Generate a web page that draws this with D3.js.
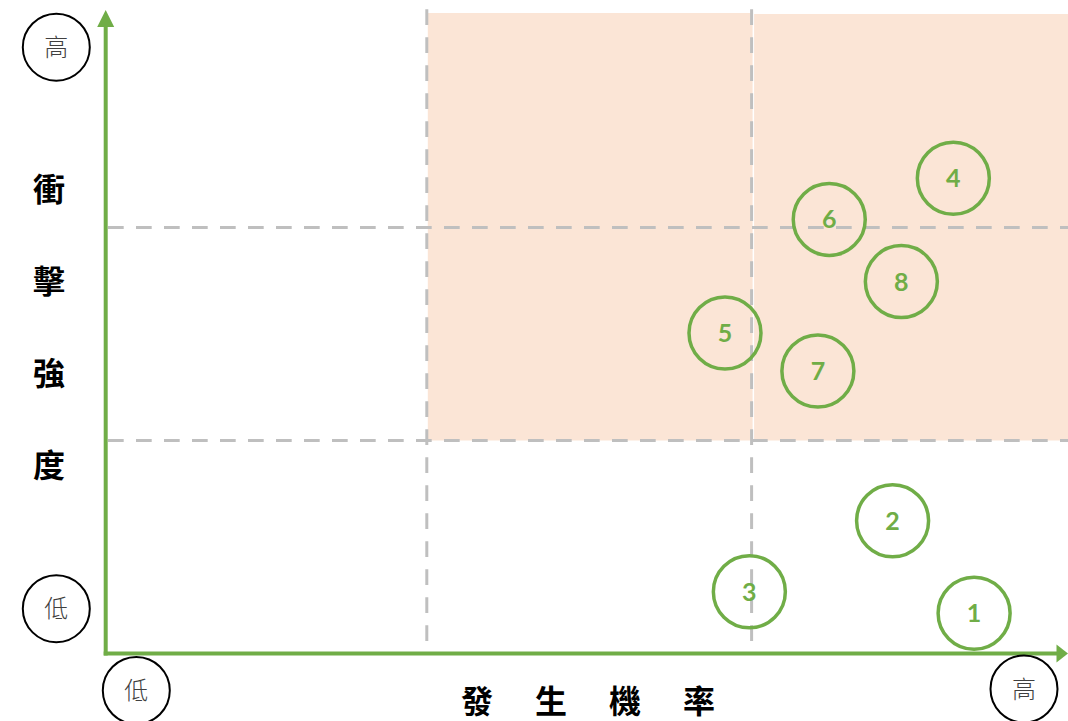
<!DOCTYPE html>
<html>
<head>
<meta charset="utf-8">
<script src="https://cdn.jsdelivr.net/npm/d3@7"></script>
<style>
  body { margin: 0; background: #fff; }
  svg { display: block; }
</style>
</head>
<body>
<div id="chart"></div>
<script>
// risk id, likelihood (0-3), impact (0-3)
const riskIds = [1, 2, 3, 4, 5, 6, 7, 8];
const likelihood = [2.682, 2.431, 1.990, 2.618, 1.915, 2.236, 2.201, 2.458];
const impact = [0.189, 0.623, 0.290, 2.231, 1.505, 2.038, 1.326, 1.746];

const levelLow = "低";
const levelHigh = "高";
const yTitle = ["衝", "擊", "強", "度"];
const xTitle = ["發", "生", "機", "率"];
const dividers = [1, 2];

const W = 1068, H = 721;
const green = "#70ad47";
const dashGrey = "#bfbfbf";
const shade = "#fbe5d6";

const svg = d3.select("#chart").append("svg")
  .attr("width", W)
  .attr("height", H);

// scales: 3 x 3 grid
const x = d3.scaleLinear().domain([0, 3]).range([103, 1077.4]);
const y = d3.scaleLinear().domain([0, 3]).range([653.5, 14.5]);

const axisX = 105.7;

// high-risk shaded area (two blocks with a thin gap at the divider)
svg.append("rect")
  .attr("x", x(1)).attr("y", y(3) - 1.5)
  .attr("width", x(2) - x(1)).attr("height", y(1) - y(3) + 1.5)
  .attr("fill", shade);

svg.append("rect")
  .attr("x", x(2) + 1.5).attr("y", y(3) - 0.5)
  .attr("width", W - x(2) - 1.5).attr("height", y(1) - y(3) + 0.5)
  .attr("fill", shade);

// dashed grid lines
svg.selectAll("line.vdash")
  .data(dividers)
  .enter().append("line")
  .attr("class", "vdash")
  .attr("x1", d => x(d) - 1).attr("x2", d => x(d) - 1)
  .attr("y1", 9.3).attr("y2", 642)
  .attr("stroke", dashGrey)
  .attr("stroke-width", 3)
  .attr("stroke-dasharray", "15.7 12.3");

svg.selectAll("line.hdash")
  .data(dividers)
  .enter().append("line")
  .attr("class", "hdash")
  .attr("x1", 108).attr("x2", W)
  .attr("y1", d => y(d)).attr("y2", d => y(d))
  .attr("stroke", dashGrey)
  .attr("stroke-width", 3)
  .attr("stroke-dasharray", "15.7 12.3");

// axes with arrow heads
svg.append("line")
  .attr("x1", axisX).attr("x2", axisX)
  .attr("y1", y(0) + 2).attr("y2", 24)
  .attr("stroke", green).attr("stroke-width", 4);

svg.append("path")
  .attr("d", `M${axisX},10 L${axisX - 8.5},27 L${axisX + 8.5},27 Z`)
  .attr("fill", green);

svg.append("line")
  .attr("x1", axisX - 2).attr("x2", 1058)
  .attr("y1", y(0)).attr("y2", y(0))
  .attr("stroke", green).attr("stroke-width", 4);

svg.append("path")
  .attr("d", `M1068,${y(0)} L1056.5,${y(0) - 9} L1056.5,${y(0) + 9} Z`)
  .attr("fill", green);

// low / high markers
const markers = [
  { cx: 56.3, cy: 47.2, t: levelHigh },
  { cx: 56.3, cy: 608.7, t: levelLow },
  { cx: 136.3, cy: 690.5, t: levelLow },
  { cx: 1024, cy: 689, t: levelHigh }
];

const mk = svg.selectAll("g.marker")
  .data(markers)
  .enter().append("g")
  .attr("class", "marker")
  .attr("transform", d => `translate(${d.cx},${d.cy})`);

mk.append("circle")
  .attr("r", 33.5)
  .attr("fill", "#fff")
  .attr("stroke", "#000")
  .attr("stroke-width", 2);

mk.append("text")
  .attr("text-anchor", "middle")
  .attr("dy", "0.36em")
  .attr("font-family", "'Noto Sans CJK TC', sans-serif")
  .attr("font-weight", 300)
  .attr("font-size", 24)
  .attr("fill", "#404040")
  .text(d => d.t);

// axis titles
svg.selectAll("text.ytitle")
  .data(yTitle)
  .enter().append("text")
  .attr("class", "ytitle")
  .attr("x", 49)
  .attr("y", (d, i) => 189 + i * 92)
  .attr("dy", "0.36em")
  .attr("text-anchor", "middle")
  .attr("font-family", "'Noto Sans CJK TC', sans-serif")
  .attr("font-weight", 700)
  .attr("font-size", 32)
  .attr("fill", "#000")
  .text(d => d);

svg.selectAll("text.xtitle")
  .data(xTitle)
  .enter().append("text")
  .attr("class", "xtitle")
  .attr("x", (d, i) => 477 + i * 74)
  .attr("y", 701)
  .attr("dy", "0.36em")
  .attr("text-anchor", "middle")
  .attr("font-family", "'Noto Sans CJK TC', sans-serif")
  .attr("font-weight", 700)
  .attr("font-size", 32)
  .attr("fill", "#000")
  .text(d => d);

// risk circles
const risks = riskIds.map((id, i) => ({ id: id, lx: likelihood[i], iy: impact[i] }));

const g = svg.selectAll("g.risk")
  .data(risks)
  .enter().append("g")
  .attr("class", "risk")
  .attr("transform", d => `translate(${x(d.lx)},${y(d.iy)})`);

g.append("circle")
  .attr("r", 36)
  .attr("fill", "none")
  .attr("stroke", green)
  .attr("stroke-width", 3.5);

g.append("text")
  .attr("text-anchor", "middle")
  .attr("dy", "0.36em")
  .attr("font-family", "Lato, 'Open Sans', sans-serif")
  .attr("font-weight", 700)
  .attr("font-size", 25)
  .attr("fill", green)
  .text(d => d.id);
</script>
</body>
</html>
